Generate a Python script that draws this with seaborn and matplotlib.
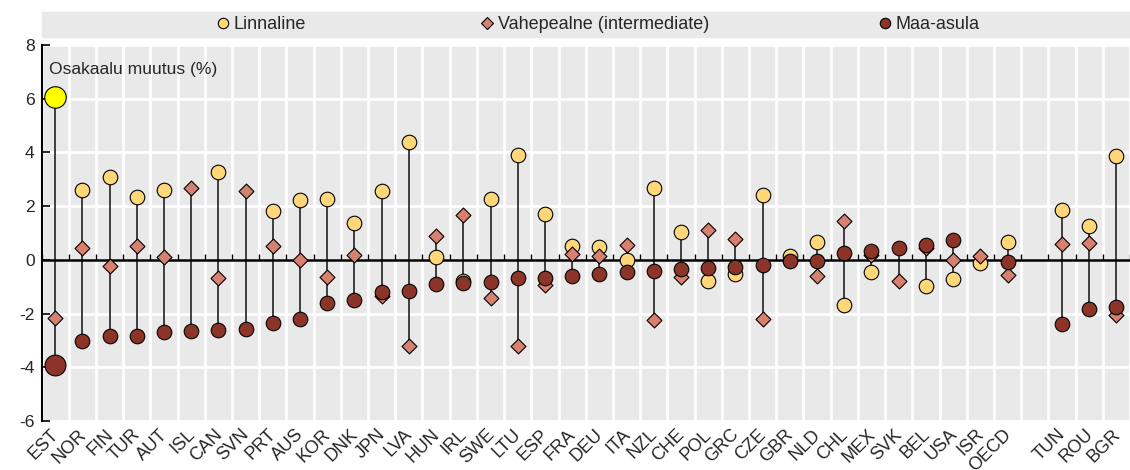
import numpy as np
import pandas as pd
import seaborn as sns
import matplotlib.pyplot as plt
import matplotlib.transforms as mtransforms
from matplotlib.lines import Line2D
from matplotlib.patches import Rectangle

countries = ["EST", "NOR", "FIN", "TUR", "AUT", "ISL", "CAN", "SVN", "PRT", "AUS",
             "KOR", "DNK", "JPN", "LVA", "HUN", "IRL", "SWE", "LTU", "ESP", "FRA",
             "DEU", "ITA", "NZL", "CHE", "POL", "GRC", "CZE", "GBR", "NLD", "CHL",
             "MEX", "SVK", "BEL", "USA", "ISR", "OECD", " ", "TUN", "ROU", "BGR"]

nan = np.nan
urban = [6.07, 2.60, 3.10, 2.35, 2.60, nan, 3.28, nan, 1.83, 2.23,
         2.28, 1.39, 2.56, 4.40, 0.09, -0.78, 2.26, 3.90, 1.70, 0.50,
         0.47, 0.00, 2.69, 1.02, -0.77, -0.52, 2.42, 0.15, 0.65, -1.68,
         -0.44, nan, -0.97, -0.71, -0.10, 0.65, nan, 1.86, 1.26, 3.87]
intermediate = [-2.18, 0.46, -0.23, 0.50, 0.12, 2.69, -0.69, 2.58, 0.53, 0.01,
                -0.65, 0.17, -1.35, -3.21, 0.87, 1.67, -1.41, -3.20, -0.93, 0.21,
                0.15, 0.56, -2.24, -0.65, 1.12, 0.77, -2.20, nan, -0.60, 1.45,
                0.19, -0.78, 0.45, 0.00, 0.15, -0.56, nan, 0.58, 0.62, -2.05]
rural = [-3.90, -3.01, -2.84, -2.83, -2.69, -2.66, -2.62, -2.59, -2.34, -2.21,
         -1.62, -1.51, -1.18, -1.15, -0.90, -0.85, -0.84, -0.66, -0.66, -0.60,
         -0.52, -0.47, -0.40, -0.34, -0.31, -0.25, -0.19, -0.06, -0.04, 0.27,
         0.34, 0.44, 0.56, 0.75, nan, -0.09, nan, -2.40, -1.84, -1.74]

labels = ["Linnaline", "Vahepealne (intermediate)", "Maa-asula"]
c_urban, c_inter, c_rural, c_hi = "#FFD778", "#D68070", "#8C3428", "#FFFF00"
bg = "#E9E9E9"

df = pd.DataFrame({"country": countries, "urban": urban,
                   "intermediate": intermediate, "rural": rural})

sns.set_style("darkgrid", {"axes.facecolor": bg, "grid.color": "white"})
plt.rcParams["font.family"] = ["Liberation Sans", "DejaVu Sans"]
plt.rcParams["font.size"] = 12.6
plt.rcParams["axes.unicode_minus"] = False

fig = plt.figure(figsize=(11.3, 4.7), dpi=100)
ax = fig.add_axes([41.5 / 1130, 49 / 470, 1 - 41.5 / 1130, 376 / 470])

n = len(countries)
pos = np.arange(n)
vals = df[["urban", "intermediate", "rural"]]
lo = vals.min(axis=1)
hi = vals.max(axis=1)
ax.vlines(pos, lo, hi, color="#222222", lw=1.2, zorder=2)

# urban, intermediate, rural (EST drawn larger on top)
sns.stripplot(data=df, x="country", y="urban", order=countries, jitter=False,
              color=c_urban, marker="o", size=10.5, edgecolor="black",
              linewidth=0.8, zorder=3, ax=ax)
sns.stripplot(data=df.iloc[:1], x="country", y="urban", order=countries, jitter=False,
              color=c_hi, marker="o", size=15.5, edgecolor="black",
              linewidth=0.8, zorder=3, ax=ax)
sns.stripplot(data=df, x="country", y="intermediate", order=countries, jitter=False,
              color=c_inter, marker="D", size=7.6, edgecolor="black",
              linewidth=0.8, zorder=4, ax=ax)
sns.stripplot(data=df, x="country", y="rural", order=countries, jitter=False,
              color=c_rural, marker="o", size=10.5, edgecolor="black",
              linewidth=0.8, zorder=5, ax=ax)
sns.stripplot(data=df.iloc[:1], x="country", y="rural", order=countries, jitter=False,
              color=c_rural, marker="o", size=15, edgecolor="black",
              linewidth=0.8, zorder=5, ax=ax)

# axes, grid
ax.set_ylim(-6, 8)
ax.set_xlim(-0.5, 39.18)
ax.set_yticks(np.arange(-6, 9, 2))
ax.set_xlabel("")
ax.set_ylabel("")
bounds = np.arange(-0.5, n + 0.5)
ax.set_xticks(bounds, minor=True)
ax.grid(False)
ax.grid(which="minor", axis="x", color="white", lw=2)
ax.grid(which="major", axis="y", color="white", lw=2)
ax.set_axisbelow(True)
ax.axhline(0, color="black", lw=1.8, zorder=2.5)
ax.vlines(bounds, 0, 0.22, color="black", lw=1, zorder=2.5)

for s in ["top", "right", "bottom"]:
    ax.spines[s].set_visible(False)
ax.spines["left"].set_visible(True)
ax.spines["left"].set_color("black")
ax.spines["left"].set_linewidth(1.5)
ax.tick_params(axis="y", which="major", direction="in", length=6, width=1.2,
               color="black", pad=5, labelsize=12.6, left=True)
ax.tick_params(axis="x", which="both", length=0, pad=0)
shift = mtransforms.ScaledTranslation(-5 / 100, -5 / 100, fig.dpi_scale_trans)
for lbl in ax.get_xticklabels():
    lbl.set_rotation(45)
    lbl.set_ha("right")
    lbl.set_va("top")
    lbl.set_rotation_mode("anchor")
    lbl.set_fontsize(13)
    lbl.set_transform(lbl.get_transform() + shift)

ax.text(0.007, 0.934, "Osakaalu muutus (%)", transform=ax.transAxes,
        va="center", ha="left", fontsize=12.6)

# legend band
fig.patches.append(Rectangle((41.5 / 1130, 433 / 470), 1 - 41.5 / 1130, 25 / 470,
                             transform=fig.transFigure, color=bg, zorder=0))
handles = [
    Line2D([], [], ls="", marker="o", ms=7.5, mfc=c_urban, mec="black", mew=0.8),
    Line2D([], [], ls="", marker="D", ms=6, mfc=c_inter, mec="black", mew=0.8),
    Line2D([], [], ls="", marker="o", ms=7.5, mfc=c_rural, mec="black", mew=0.8),
]
for h, lab, cx in zip(handles, labels, [260, 594, 928]):
    fig.legend(handles=[h], labels=[lab], loc="center",
               bbox_to_anchor=(cx / 1130, 1 - 24.5 / 470), frameon=False,
               handletextpad=0.1, handlelength=1.0, fontsize=13,
               borderpad=0, borderaxespad=0)

fig.savefig("out.png", dpi=100)
